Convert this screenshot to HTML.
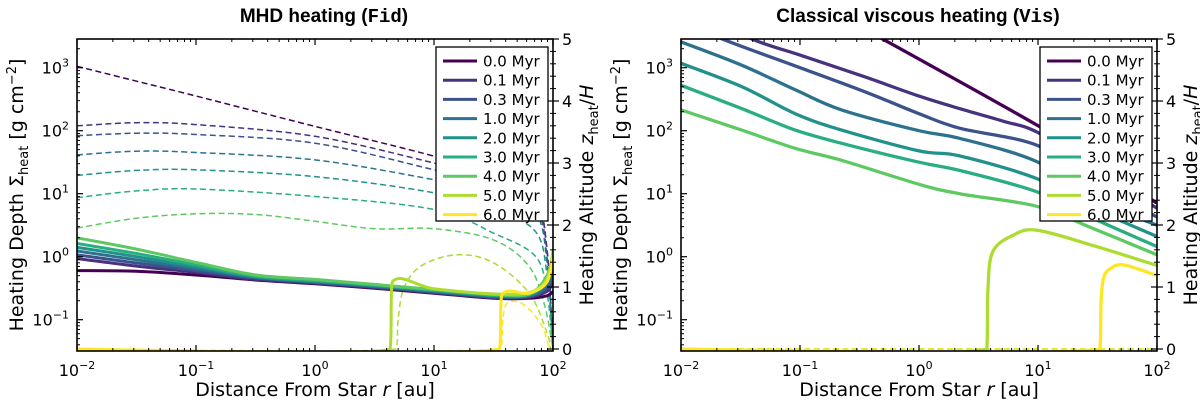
<!DOCTYPE html>
<html><head><meta charset="utf-8">
<style>
html,body{margin:0;padding:0;background:#fff;}
svg{display:block;font-family:"DejaVu Sans","Liberation Sans",sans-serif;}
</style></head>
<body>
<svg id="fig" width="1200" height="401" viewBox="0 0 1200 401" xmlns="http://www.w3.org/2000/svg">
<text x="324" y="22" text-anchor="middle" font-family="Liberation Sans, sans-serif" font-weight="bold" font-size="19">MHD heating (<tspan font-family="Liberation Mono, monospace">Fid</tspan>)</text>
<text x="918" y="22" text-anchor="middle" font-family="Liberation Sans, sans-serif" font-weight="bold" font-size="19">Classical viscous heating (<tspan font-family="Liberation Mono, monospace">Vis</tspan>)</text>
</svg>
<script>
// ---------- data ----------
const timeLabels = ["0.0 Myr","0.1 Myr","0.3 Myr","1.0 Myr","2.0 Myr","3.0 Myr","4.0 Myr","5.0 Myr","6.0 Myr"];
const seriesColors = ["#440154","#46327e","#3b528b","#2c728e","#21918c","#28ae80","#5ec962","#addc30","#fde725"];
const xTickExps = [-2,-1,0,1,2];
const yTickExps = [-1,0,1,2,3];
const zTicks = [0,1,2,3,4,5];

// Fid: solid = log10 Sigma_heat, dashed = z_heat/H
const fidLogR = [-2,-1.5,-1,-0.5,0,0.5,1,1.5,1.8,1.95,2];
const fidSigma00 = [-0.22,-0.23,-0.29,-0.37,-0.43,-0.50,-0.58,-0.66,-0.66,-0.62,-0.55];
const fidSigma01 = [-0.03,-0.15,-0.25,-0.36,-0.42,-0.49,-0.57,-0.65,-0.64,-0.55,-0.40];
const fidSigma03 = [0.03,-0.10,-0.22,-0.34,-0.41,-0.48,-0.56,-0.64,-0.63,-0.50,-0.30];
const fidSigma10 = [0.09,-0.05,-0.19,-0.33,-0.40,-0.47,-0.55,-0.63,-0.62,-0.45,-0.15];
const fidSigma20 = [0.15,0.00,-0.16,-0.32,-0.39,-0.46,-0.54,-0.62,-0.61,-0.40,-0.05];
const fidSigma30 = [0.21,0.05,-0.13,-0.31,-0.38,-0.45,-0.53,-0.61,-0.60,-0.35,-0.05];
const fidSigma40 = [0.30,0.12,-0.09,-0.29,-0.36,-0.44,-0.52,-0.60,-0.59,-0.30,0.05];
const fidSigma50R = [-2,0.63,0.65,1,1.5,1.8,1.95,2];
const fidSigma50 = [-1.47,-1.47,-0.40,-0.51,-0.59,-0.57,-0.35,0.10];
const fidSigma60R = [-2,1.55,1.57,1.8,1.95,2];
const fidSigma60 = [-1.47,-1.47,-0.61,-0.58,-0.40,0.00];

const fidZR = [-2,-1.5,-1,0,1,1.5,1.85,1.95,2];
const fidZ00 = [4.56,4.32,4.08,3.59,3.11,2.80,2.40,1.60,0];
const fidZ01 = [3.60,3.65,3.62,3.43,3.00,2.75,2.40,1.60,0];
const fidZ03 = [3.44,3.48,3.46,3.32,2.89,2.65,2.30,1.50,0];
const fidZ10 = [3.13,3.19,3.17,3.05,2.73,2.52,2.20,1.40,0];
const fidZ20 = [2.80,2.88,2.89,2.78,2.52,2.25,1.90,1.20,0];
const fidZ30 = [2.44,2.55,2.58,2.46,2.25,1.87,1.50,0.90,0];
const fidZ40R = [-2,-1.5,-1,-0.5,0,0.5,1,1.5,1.8,1.93,2];
const fidZ40 = [1.95,2.11,2.18,2.17,2.06,1.94,1.94,1.76,1.33,0.70,0];
const fidZ50R = [-2,0.68,0.70,0.75,0.9,1.2,1.5,1.8,1.95,1.98];
const fidZ50 = [0,0,0.50,1.00,1.35,1.52,1.39,0.90,0.26,0];
const fidZ60R = [-2,1.56,1.58,1.62,1.75,1.9,1.97];
const fidZ60 = [0,0,0.50,0.75,0.72,0.40,0];

// Vis: solid = log10 Sigma_heat
const visR00 = [-1,1.0,1.46,2];
const visSigma00 = [4.18,2.08,1.50,0.85];
const visR01 = [-2,-1.41,-1,-0.45,0,0.34,0.71,1.0,1.46,2];
const visSigma01 = [4.0,3.46,3.20,2.85,2.55,2.35,2.15,1.97,1.40,0.77];
const visR03 = [-2,-1.66,-1,-0.43,0,0.34,0.99,1.46,2];
const visSigma03 = [3.75,3.46,3.00,2.60,2.27,2.04,1.77,1.20,0.63];
const visR = [-2,-1.49,-1.04,-0.65,0,0.34,0.99,1.46,2];
const visSigma10 = [3.41,3.04,2.65,2.33,2.00,1.88,1.51,0.92,0.50];
const visSigma20 = [3.07,2.70,2.27,2.01,1.68,1.60,1.24,0.77,0.32];
const visSigma30 = [2.72,2.35,2.01,1.80,1.50,1.37,1.03,0.61,0.16];
const visSigma40 = [2.33,2.01,1.72,1.53,1.15,1.00,0.80,0.45,0.03];
const visR50 = [-2,0.57,0.58,0.62,0.79,0.99,1.46,2];
const visSigma50 = [-1.47,-1.47,-0.50,0.08,0.34,0.42,0.18,-0.14];
const visR60 = [-2,1.52,1.53,1.55,1.60,1.72,2];
const visSigma60 = [-1.47,-1.47,-0.70,-0.35,-0.20,-0.13,-0.30];

// ---------- drawing ----------
const NS = "http://www.w3.org/2000/svg";
const svg = document.getElementById("fig");
const TOP = 39, BOT = 351;
function mk(tag, attrs, parent){
  const e = document.createElementNS(NS, tag);
  for (const k in attrs) e.setAttribute(k, attrs[k]);
  (parent||svg).appendChild(e);
  return e;
}
function makePanel(x0, id){
  const x1 = x0 + 476;
  return {
    x0, x1, id,
    X: l => x0 + (l + 2) * 119,
    YS: s => 256.7 - s * 63,
    YZ: z => 349 - z * 62
  };
}
const P1 = makePanel(77, "fid");
const P2 = makePanel(681, "vis");

function path(P, xs, ys, fn){
  const pts = xs.map((x, i) => [P.X(x), fn(ys[i])]);
  let d = "M" + pts[0][0].toFixed(1) + "," + pts[0][1].toFixed(1);
  for (let i = 0; i < pts.length - 1; i++) {
    const p0 = pts[Math.max(0, i - 1)], p1 = pts[i], p2 = pts[i + 1], p3 = pts[Math.min(pts.length - 1, i + 2)];
    const c1 = [p1[0] + (p2[0] - p0[0]) / 6, p1[1] + (p2[1] - p0[1]) / 6];
    const c2 = [p2[0] - (p3[0] - p1[0]) / 6, p2[1] - (p3[1] - p1[1]) / 6];
    // keep control x within segment to avoid loops
    c1[0] = Math.min(Math.max(c1[0], p1[0]), p2[0]);
    c2[0] = Math.min(Math.max(c2[0], p1[0]), p2[0]);
    d += "C" + c1[0].toFixed(1) + "," + c1[1].toFixed(1) + " " + c2[0].toFixed(1) + "," + c2[1].toFixed(1) + " " + p2[0].toFixed(1) + "," + p2[1].toFixed(1);
  }
  return d;
}

function drawPanel(P, solids, dashes, sw){
  const cp = mk("clipPath", {id: "clip-" + P.id});
  mk("rect", {x: P.x0, y: TOP, width: P.x1 - P.x0, height: BOT - TOP}, cp);
  const g = mk("g", {"clip-path": "url(#clip-" + P.id + ")"});
  
  
  dashes.forEach((s, i) => {
    const p = mk("path", {d: path(P, s[0], s[1], P.YZ), fill: "none", stroke: seriesColors[s[2]], "stroke-width": 1.5, "stroke-dasharray": "6,3.5"}, g);
    
    
  });
  solids.forEach(s => {
    const p = mk("path", {d: path(P, s[0], s[1], P.YS), fill: "none", stroke: seriesColors[s[2]], "stroke-width": sw, "stroke-linejoin": "round"}, g);
    
    
  });
  const fr = mk("rect", {x: P.x0, y: TOP, width: P.x1 - P.x0, height: BOT - TOP, fill: "none", stroke: "#000", "stroke-width": 1.6});
  
  
  for (let e = -2; e <= 2; e++) {
    const xm = P.X(e);
    mk("line", {x1: xm, x2: xm, y1: BOT, y2: BOT - 6, stroke: "#000", "stroke-width": 1.2});
    mk("line", {x1: xm, x2: xm, y1: TOP, y2: TOP + 6, stroke: "#000", "stroke-width": 1.2});
    if (e < 2) for (let k = 2; k <= 9; k++) {
      const xx = P.X(e + Math.log10(k));
      mk("line", {x1: xx, x2: xx, y1: BOT, y2: BOT - 3, stroke: "#000", "stroke-width": 1});
      mk("line", {x1: xx, x2: xx, y1: TOP, y2: TOP + 3, stroke: "#000", "stroke-width": 1});
    }
  }
  xTickExps.forEach(e => {
    const t = mk("text", {x: P.X(e), y: 376, "text-anchor": "middle", "font-size": 16});
    
    
    t.appendChild(document.createTextNode("10"));
    const sp = mk("tspan", {dy: -7, "font-size": 11}, t);
    sp.textContent = e < 0 ? "\u2212" + (-e) : String(e);
  });
  for (let e = -2; e <= 3; e++) {
    const ym = P.YS(e);
    if (ym >= TOP && ym <= BOT) mk("line", {x1: P.x0, x2: P.x0 + 6, y1: ym, y2: ym, stroke: "#000", "stroke-width": 1.2});
    for (let k = 2; k <= 9; k++) {
      const yy = P.YS(e + Math.log10(k));
      if (yy >= TOP && yy <= BOT) mk("line", {x1: P.x0, x2: P.x0 + 3, y1: yy, y2: yy, stroke: "#000", "stroke-width": 1});
    }
  }
  yTickExps.forEach(e => {
    const t = mk("text", {x: P.x0 - 8, y: P.YS(e) + 6, "text-anchor": "end", "font-size": 16});
    
    
    t.appendChild(document.createTextNode("10"));
    const sp = mk("tspan", {dy: -7, "font-size": 11}, t);
    sp.textContent = e < 0 ? "\u2212" + (-e) : String(e);
  });
  for (let z = 0; z <= 5.001; z += 0.2) {
    const yy = P.YZ(z);
    const major = Math.abs(z - Math.round(z)) < 0.01;
    mk("line", {x1: P.x1, x2: P.x1 + (major ? 6 : 3), y1: yy, y2: yy, stroke: "#000", "stroke-width": major ? 1.2 : 1});
    mk("line", {x1: P.x1, x2: P.x1 - (major ? 6 : 3), y1: yy, y2: yy, stroke: "#000", "stroke-width": major ? 1.2 : 1});
  }
  zTicks.forEach(z => {
    const t = mk("text", {x: P.x1 + 9, y: P.YZ(z) + 6, "font-size": 16});
    
    
    t.textContent = String(z);
  });
  const xl = mk("text", {x: (P.x0 + P.x1) / 2, y: 396, "text-anchor": "middle", "font-size": 19});
  
  
  xl.innerHTML = 'Distance From Star <tspan font-style="italic">r</tspan> [au]';
  const yl = mk("text", {transform: "translate(" + (P.x0 - 54) + ",195) rotate(-90)", "text-anchor": "middle", "font-size": 19});
  
  
  yl.innerHTML = 'Heating Depth \u03A3<tspan font-size="13" dy="5">heat</tspan><tspan dy="-5"> [g cm</tspan><tspan font-size="13" dy="-7">\u22122</tspan><tspan dy="7">]</tspan>';
  const zl = mk("text", {transform: "translate(" + (P.x1 + 40) + ",195) rotate(-90)", "text-anchor": "middle", "font-size": 19});
  
  
  zl.innerHTML = 'Heating Altitude <tspan font-style="italic">z</tspan><tspan font-size="13" dy="5">heat</tspan><tspan dy="-5">/</tspan><tspan font-style="italic">H</tspan>';
  const lx = P.x1 - 117, ly = 47;
  const lg = mk("g", {});
  
  
  mk("rect", {x: lx, y: ly, width: 112, height: 174, fill: "#fff", stroke: "#000", "stroke-width": 1.3}, lg);
  timeLabels.forEach((lab, i) => {
    const yy = ly + 14 + i * 19.2;
    const en = mk("g", {}, lg);
    
    
    mk("line", {x1: lx + 7, x2: lx + 41, y1: yy, y2: yy, stroke: seriesColors[i], "stroke-width": 3}, en);
    const t = mk("text", {x: lx + 47, y: yy + 5.5, "font-size": 15}, en);
    t.textContent = lab;
  });
}

drawPanel(P1,
  [[fidLogR, fidSigma00, 0],[fidLogR, fidSigma01, 1],[fidLogR, fidSigma03, 2],[fidLogR, fidSigma10, 3],
   [fidLogR, fidSigma20, 4],[fidLogR, fidSigma30, 5],[fidLogR, fidSigma40, 6],
   [fidSigma50R, fidSigma50, 7],[fidSigma60R, fidSigma60, 8]],
  [[fidZR, fidZ00, 0],[fidZR, fidZ01, 1],[fidZR, fidZ03, 2],[fidZR, fidZ10, 3],[fidZR, fidZ20, 4],
   [fidZR, fidZ30, 5],[fidZ40R, fidZ40, 6],[fidZ50R, fidZ50, 7],[fidZ60R, fidZ60, 8]], 3);

const visZeroR = [-2, 2];
const visZero = [0, 0];
drawPanel(P2,
  [[visR00, visSigma00, 0],[visR01, visSigma01, 1],[visR03, visSigma03, 2],[visR, visSigma10, 3],
   [visR, visSigma20, 4],[visR, visSigma30, 5],[visR, visSigma40, 6],
   [visR50, visSigma50, 7],[visR60, visSigma60, 8]],
  [[visZeroR, visZero, 6],[visZeroR, visZero, 7],[visZeroR, visZero, 8]], 3.3);
</script>
</body></html>
